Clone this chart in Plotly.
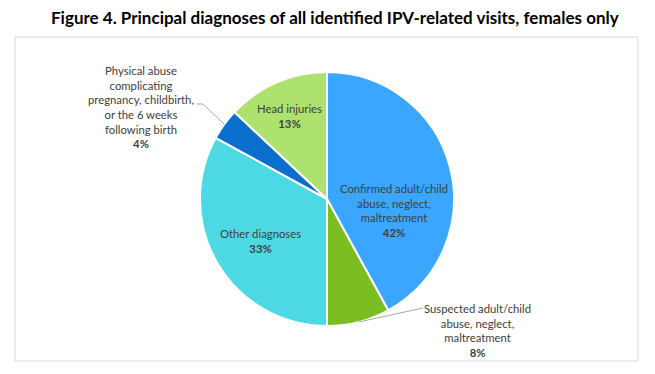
import math
import plotly.graph_objects as go

# ---- data ----
categories = [
    "Confirmed adult/child abuse, neglect, maltreatment",
    "Suspected adult/child abuse, neglect, maltreatment",
    "Other diagnoses",
    "Physical abuse complicating pregnancy, childbirth, or the 6 weeks following birth",
    "Head injuries",
]
values = [42, 8, 33, 4, 13]
label_lines = [
    ["Confirmed adult/child", "abuse, neglect,", "maltreatment"],
    ["Suspected adult/child", "abuse, neglect,", "maltreatment"],
    ["Other diagnoses"],
    ["Physical abuse", "complicating", "pregnancy, childbirth,", "or the 6 weeks", "following birth"],
    ["Head injuries"],
]
colors = ["#3AA6FF", "#7BBE22", "#4DD9E4", "#0A6FCC", "#AEE26E"]

# ---- layout geometry (pixels) ----
W, H = 655, 374
CX, CY, R = 327, 199, 127

def px(x):
    return x / W

def py(y):
    return 1 - y / H

fig = go.Figure(go.Pie(
    labels=categories,
    values=values,
    sort=False,
    direction="clockwise",
    rotation=0,
    marker=dict(colors=colors, line=dict(color="white", width=2)),
    textinfo="none",
    hoverinfo="label+percent",
    domain=dict(x=[px(CX - R), px(CX + R)], y=[py(CY + R), py(CY - R)]),
    showlegend=False,
))

# label positions (text block centres, pixels) and leader elbows
label_pos = [(394, 210), (477, 330), (260, 241), (141, 107), (289, 116)]
leader_outer = {1: [(423, 308)], 3: [(197, 104), (203, 104)]}

total = sum(values)
pcts = [round(100 * v / total) for v in values]
annotations = []
for i, (lines, (x, y)) in enumerate(zip(label_lines, label_pos)):
    txt = "<br>".join(lines) + f"<br><b>{pcts[i]}%</b>"
    annotations.append(dict(
        x=px(x), y=py(y), xref="paper", yref="paper",
        text=txt, showarrow=False, xanchor="center", yanchor="middle",
        font=dict(family="Lato, Carlito, Calibri, sans-serif", size=11.3, color="#404040"),
        align="center",
    ))

annotations.append(dict(
    x=px(335), y=py(18), xref="paper", yref="paper",
    text="<b>Figure 4. Principal diagnoses of all identified IPV-related visits, females only</b>",
    showarrow=False, xanchor="center", yanchor="middle",
    font=dict(family="Lato, Carlito, Calibri, sans-serif", size=17, color="#000000"),
))

shapes = [dict(type="rect", xref="paper", yref="paper",
               x0=px(15), x1=px(638), y0=py(361), y1=py(37),
               line=dict(color="#D9D9D9", width=1), layer="below")]

cum = 0
for i, v in enumerate(values):
    mid = (cum + v / 2) / total * 2 * math.pi
    cum += v
    if i in leader_outer:
        ex = CX + R * math.sin(mid)
        ey = CY - R * math.cos(mid)
        pts = leader_outer[i] + [(ex, ey)]
        for (x0, y0), (x1, y1) in zip(pts[:-1], pts[1:]):
            shapes.append(dict(type="line", xref="paper", yref="paper",
                               x0=px(x0), y0=py(y0), x1=px(x1), y1=py(y1),
                               line=dict(color="#A6A6A6", width=1)))

fig.update_layout(
    width=W, height=H,
    margin=dict(l=0, r=0, t=0, b=0),
    paper_bgcolor="white", plot_bgcolor="white",
    annotations=annotations, shapes=shapes,
)

fig.write_html(
    "out.html",
    config={"displayModeBar": False},
    post_script="document.body.style.margin='0';document.body.style.overflow='hidden';",
)
